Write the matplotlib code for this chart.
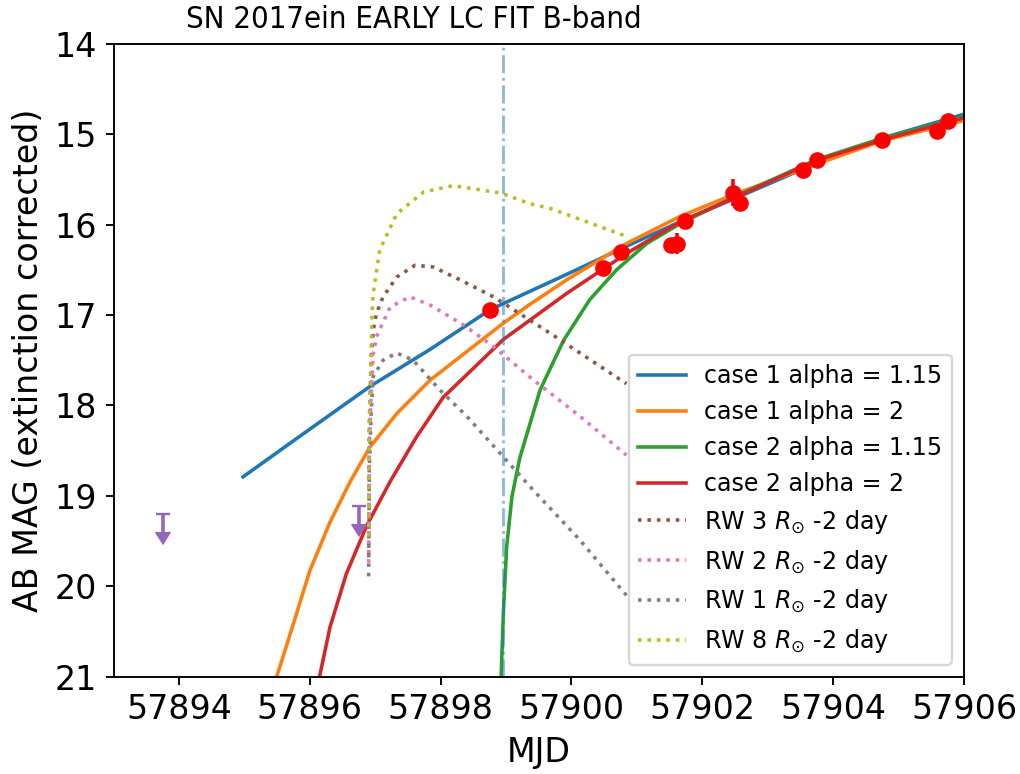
import matplotlib
matplotlib.use("Agg")
import matplotlib.pyplot as plt
from matplotlib import font_manager

# ---- photometry -----------------------------------------------------------
det_mjd = [57898.76, 57900.48, 57900.76, 57901.52, 57901.62, 57901.73, 57902.47,
           57902.57, 57903.54, 57903.75, 57904.74, 57905.58, 57905.76]
det_mag = [16.95, 16.48, 16.30, 16.23, 16.21, 15.96, 15.65,
           15.76, 15.40, 15.29, 15.07, 14.96, 14.86]
det_err = [0.03, 0.03, 0.03, 0.03, 0.12, 0.03, 0.15,
           0.03, 0.03, 0.03, 0.03, 0.03, 0.03]

lim_mjd = [57893.76, 57896.76]
lim_mag = [19.20, 19.11]
lim_len = [0.20, 0.20]

first_light = 57898.96

# ---- power-law fits -------------------------------------------------------
c1a115_mjd = [57894.98, 57895.85, 57896.92, 57897.84, 57898.76, 57899.93,
              57900.84, 57901.66, 57902.47, 57903.75, 57904.77, 57906.0]
c1a115_mag = [18.79, 18.34, 17.79, 17.38, 16.94, 16.55,
              16.24, 15.97, 15.72, 15.32, 15.04, 14.78]

c1a2_mjd = [57895.45, 57895.70, 57896.00, 57896.31, 57896.62, 57896.92, 57897.33,
            57897.84, 57898.96, 57899.37, 57899.93, 57900.84, 57901.66, 57902.47,
            57903.75, 57904.77, 57906.0]
c1a2_mag = [21.10, 20.53, 19.83, 19.29, 18.84, 18.46, 18.09,
            17.72, 17.09, 16.88, 16.61, 16.21, 15.91, 15.67,
            15.33, 15.07, 14.85]

c2a115_mjd = [57898.92, 57898.96, 57899.01, 57899.09, 57899.21, 57899.52, 57899.88,
              57900.28, 57900.69, 57901.15, 57901.66, 57902.47, 57903.75, 57904.77,
              57906.0]
c2a115_mag = [21.10, 20.28, 19.56, 19.01, 18.58, 17.83, 17.28,
              16.83, 16.50, 16.21, 15.99, 15.70, 15.28, 15.04,
              14.81]

c2a2_mjd = [57896.12, 57896.31, 57896.56, 57896.87, 57897.23, 57897.63, 57898.04,
            57898.96, 57899.93, 57900.84, 57901.66, 57902.47, 57903.75, 57904.77,
            57906.0]
c2a2_mag = [21.10, 20.45, 19.86, 19.33, 18.84, 18.35, 17.91,
            17.27, 16.76, 16.32, 15.97, 15.71, 15.29, 15.06,
            14.82]

# ---- Rabinak & Waxman shock-cooling curves --------------------------------
rw3_mjd = [57896.90, 57896.91, 57896.94, 57896.97, 57897.02, 57897.12, 57897.33,
           57897.61, 57897.89, 57898.35, 57898.81, 57899.67, 57900.84]
rw3_mag = [19.65, 18.27, 17.50, 17.17, 16.98, 16.80, 16.58,
           16.45, 16.47, 16.63, 16.80, 17.20, 17.76]

rw2_mjd = [57896.90, 57896.91, 57896.94, 57896.97, 57897.02, 57897.23, 57897.53,
           57897.84, 57898.35, 57898.81, 57899.42, 57900.13, 57900.84]
rw2_mag = [19.74, 18.49, 17.83, 17.44, 17.24, 16.91, 16.80,
           16.89, 17.11, 17.35, 17.72, 18.12, 18.55]

rw1_mjd = [57896.90, 57896.91, 57896.94, 57896.97, 57897.12, 57897.33, 57897.58,
           57897.99, 57898.40, 57898.91, 57899.42, 57900.13, 57900.84]
rw1_mag = [19.89, 18.71, 18.05, 17.68, 17.50, 17.42, 17.50,
           17.83, 18.12, 18.53, 18.94, 19.49, 20.10]

rw8_mjd = [57896.90, 57896.91, 57896.94, 57896.95, 57896.97, 57897.07, 57897.33,
           57897.74, 57898.19, 57898.91, 57899.37, 57899.67, 57900.84]
rw8_mag = [19.45, 18.16, 17.33, 17.00, 16.76, 16.28, 15.88,
           15.64, 15.57, 15.65, 15.77, 15.82, 16.13]

x_ticks = [57894, 57896, 57898, 57900, 57902, 57904, 57906]
y_ticks = [14, 15, 16, 17, 18, 19, 20, 21]

# ---- figure ---------------------------------------------------------------
DPI = 171
W, H = 1020, 774
plt.rcParams["font.size"] = 14
fig = plt.figure(figsize=(W / DPI, H / DPI), dpi=DPI)
ax = fig.add_axes([113.5 / W, 1 - 676.7 / H, 850.5 / W, 633.0 / H])

# magnitudes: brighter is up (set before errorbar so carets point down)
ax.set_xlim(57893, 57906)
ax.set_ylim(21, 14)

ax.plot(c1a115_mjd, c1a115_mag, color="C0", label="case 1 alpha = 1.15")
ax.plot(c1a2_mjd, c1a2_mag, color="C1", label="case 1 alpha = 2")
ax.plot(c2a115_mjd, c2a115_mag, color="C2", label="case 2 alpha = 1.15")
ax.plot(c2a2_mjd, c2a2_mag, color="C3", label="case 2 alpha = 2")

ax.plot(rw3_mjd, rw3_mag, ":", color="C5", label=r"RW 3 $R_{\odot}$ -2 day")
ax.plot(rw2_mjd, rw2_mag, ":", color="C6", label=r"RW 2 $R_{\odot}$ -2 day")
ax.plot(rw1_mjd, rw1_mag, ":", color="C7", label=r"RW 1 $R_{\odot}$ -2 day")
ax.plot(rw8_mjd, rw8_mag, ":", color="C8", label=r"RW 8 $R_{\odot}$ -2 day")

ax.errorbar(lim_mjd, lim_mag, yerr=lim_len, lolims=True, fmt="none",
            ecolor="C4", color="C4", capsize=3, zorder=3)
ax.errorbar(det_mjd, det_mag, yerr=det_err, fmt="o", color="red",
            ecolor="red", capsize=0, zorder=4)

ax.axvline(first_light, color="C0", ls="-.", lw=1.2, alpha=0.5)

ax.set_xticks(x_ticks)
ax.set_yticks(y_ticks)
ax.ticklabel_format(axis="x", useOffset=False, style="plain")
ax.set_xlabel("MJD")
ax.set_ylabel("AB MAG (extinction corrected)")

ax.legend(loc="lower right", fontsize=10)

# title in a narrow face
names = {f.name for f in font_manager.fontManager.ttflist}
if "Liberation Sans Narrow" in names:
    title_kw = dict(family="Liberation Sans Narrow", fontsize=13.5)
else:
    title_kw = dict(family="DejaVu Sans", stretch="condensed", fontsize=13)
fig.text(414 / W, 1 - 28 / H, "SN 2017ein EARLY LC FIT B-band",
         ha="center", va="baseline", **title_kw)

fig.savefig("out.png", dpi=DPI)
